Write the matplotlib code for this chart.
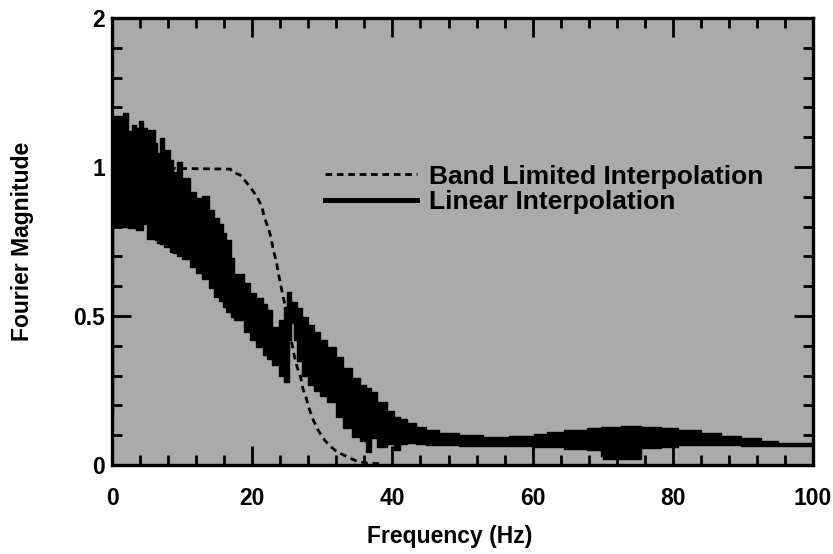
import matplotlib.pyplot as plt
from matplotlib.lines import Line2D
from matplotlib.ticker import MultipleLocator

plt.rcParams['font.family'] = ['Liberation Sans', 'DejaVu Sans']
plt.rcParams['font.weight'] = 'bold'

# band limited interpolation (dashed)
freq_bl = [0, 10, 16.9, 17.1, 18.3, 19.7, 20.7, 21.4, 21.7, 22.3, 22.7, 23.0, 23.4,
           23.7, 24.0, 24.3, 24.6, 25.7, 26.0, 26.4, 26.9, 27.2, 27.7, 28.1, 28.7,
           29.4, 30.4, 31.3, 32.1, 33.6, 34.9, 36.1, 37.7, 38.5]
mag_bl = [1.0, 0.995, 0.993, 0.984, 0.973, 0.933, 0.899, 0.866, 0.832, 0.795, 0.762,
          0.721, 0.688, 0.648, 0.611, 0.577, 0.544, 0.403, 0.366, 0.329, 0.295, 0.258,
          0.225, 0.191, 0.151, 0.117, 0.081, 0.06, 0.044, 0.027, 0.013, 0.007, 0.005, 0.004]

# linear interpolation: lower / upper edge of the noisy trace
freq_lin = [0, 0.2, 1.5, 2.3, 2.8, 3.4, 3.9, 4.4, 5.0, 6.1, 6.4, 6.8, 7.4, 8.3, 8.7,
            9.3, 10.0, 11.1, 12.0, 12.8, 13.8, 14.5, 15.2, 15.9, 16.3, 16.9, 17.4,
            18.8, 19.7, 20.6, 21.6, 22.1, 22.8, 23.8, 24.5, 24.9, 25.3, 25.6, 26.0,
            26.4, 27.1, 28.0, 28.8, 29.7, 30.7, 31.9, 33.0, 34.2, 35.4, 36.2, 36.9,
            37.8, 39.2, 40.2, 41.1, 42.1, 43.4, 44.8, 46.7, 49.5, 52.9, 56.7, 60.2,
            62.1, 64.5, 67.8, 69.7, 70.1, 72.6, 75.4, 78.3, 80.7, 84.0, 86.9, 89.7,
            92.6, 95.0, 98.3, 100]
lin_low = [0.17, 0.80, 0.80, 0.795, 0.795, 0.79, 0.79, 0.81, 0.76, 0.755, 0.745, 0.74,
           0.73, 0.715, 0.71, 0.70, 0.69, 0.665, 0.645, 0.625, 0.595, 0.565, 0.55, 0.53,
           0.515, 0.497, 0.485, 0.445, 0.42, 0.395, 0.37, 0.355, 0.335, 0.30, 0.28, 0.28,
           0.42, 0.475, 0.42, 0.35, 0.30, 0.27, 0.25, 0.23, 0.21, 0.16, 0.125, 0.095,
           0.08, 0.045, 0.09, 0.06, 0.07, 0.05, 0.07, 0.074, 0.072, 0.067, 0.066, 0.065,
           0.064, 0.064, 0.061, 0.06, 0.055, 0.05, 0.03, 0.02, 0.02, 0.057, 0.06, 0.066,
           0.067, 0.066, 0.064, 0.064, 0.064, 0.064, 0.064]
lin_high = [1.13, 1.17, 1.18, 1.12, 1.14, 1.13, 1.155, 1.13, 1.124, 1.08, 1.046, 1.096,
            1.057, 1.023, 0.984, 1.018, 0.962, 0.917, 0.897, 0.903, 0.856, 0.828, 0.81,
            0.78, 0.755, 0.694, 0.641, 0.61, 0.576, 0.559, 0.54, 0.52, 0.464, 0.487, 0.53,
            0.582, 0.582, 0.548, 0.548, 0.526, 0.498, 0.47, 0.448, 0.419, 0.397, 0.363,
            0.324, 0.291, 0.268, 0.26, 0.246, 0.213, 0.18, 0.162, 0.155, 0.14, 0.128,
            0.117, 0.108, 0.10, 0.095, 0.097, 0.104, 0.112, 0.117, 0.123, 0.127, 0.129,
            0.131, 0.129, 0.123, 0.117, 0.106, 0.097, 0.09, 0.082, 0.075, 0.073, 0.073]

ytick_vals = [0, 0.5, 1, 1.5]
ytick_labels = ['0', '0.5', '1', '2']

fig = plt.figure(figsize=(8.33, 5.54), dpi=100)
ax = fig.add_axes([0.1345, 0.1606, 0.8415, 0.8069])
ax.set_facecolor('#aaaaaa')

ax.fill_between(freq_lin, lin_low, lin_high, step='post', color='black', lw=1)
ax.plot(freq_bl, mag_bl, color='black', lw=2, dashes=(2.4, 1.7))

ax.set_xlim(0, 100)
ax.set_ylim(0, 1.5)
ax.xaxis.set_major_locator(MultipleLocator(20))
ax.xaxis.set_minor_locator(MultipleLocator(4))
ax.set_yticks(ytick_vals)
ax.set_yticklabels(ytick_labels)
ax.yaxis.set_minor_locator(MultipleLocator(0.1))
ax.tick_params(which='both', direction='in', top=True, right=True, width=2, labelsize=16.5)
ax.tick_params(which='major', length=14)
ax.tick_params(which='minor', length=7)
ax.tick_params(axis='x', pad=16)
ax.tick_params(axis='y', pad=5)
for s in ax.spines.values():
    s.set_linewidth(2.4)

ax.set_xlabel('Frequency (Hz)', fontsize=16.5, fontweight='bold')
ax.set_ylabel('Fourier Magnitude', fontsize=16.5, fontweight='bold')
ax.xaxis.set_label_coords(0.481, -0.134)
ax.yaxis.set_label_coords(-0.111, 0.5)

handles = [Line2D([], [], color='black', lw=2, dashes=(2.4, 1.7)),
           Line2D([], [], color='black', lw=3.6)]
ax.legend(handles, ['Band Limited Interpolation', 'Linear Interpolation'],
          loc='center left', bbox_to_anchor=(0.304, 0.617), frameon=False,
          fontsize=19, handlelength=3.5, handletextpad=0.42, labelspacing=0.05,
          borderpad=0, borderaxespad=0)

fig.savefig('out.png', dpi=100)
